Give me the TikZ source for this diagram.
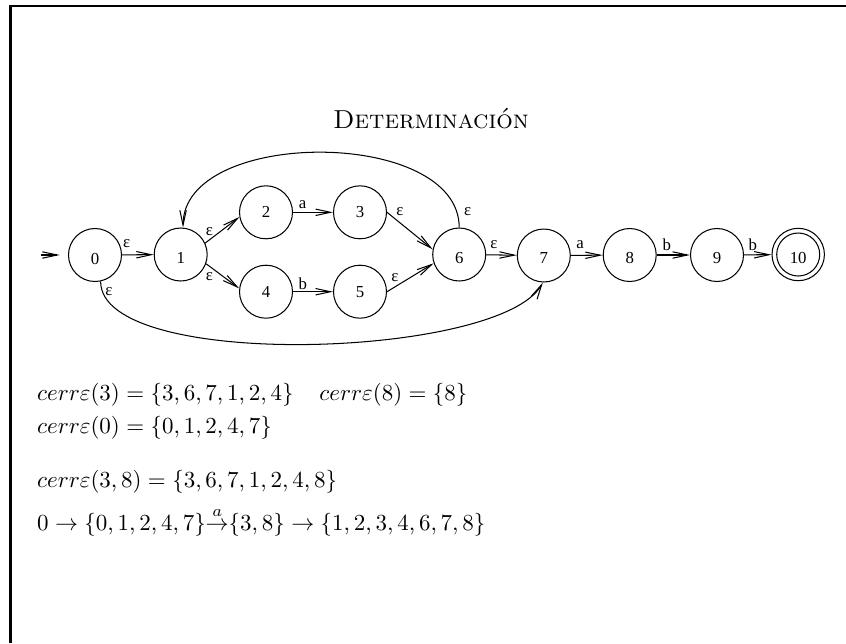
\documentclass[tikz,border=0pt]{standalone}
\usepackage{fontspec}
\newfontfamily\figfont{Liberation Serif}
\usetikzlibrary{arrows.meta}
\tikzset{
  state/.style={circle,draw,line width=0.45pt,minimum size=23.05pt,inner sep=0pt},
  slab/.style={font=\figfont\fontsize{7.3}{8}\selectfont,inner sep=0pt,anchor=center},
  elab/.style={font=\figfont\fontsize{7.3}{8}\selectfont,inner sep=0pt,anchor=center},
  edge/.style={line width=0.45pt,-{Straight Barb[length=6.5pt,width=2.8pt]}},
  txt/.style={anchor=base west,inner sep=0pt},
  frame/.style={line width=0.9pt}
}
\begin{document}
\begin{tikzpicture}[x=0.435pt,y=-0.435pt]
\useasboundingbox (0,0) rectangle (846,643);
\draw[frame] (10.5,643) -- (10.5,6) -- (846,6);

\node[anchor=base,inner sep=0pt,font=\fontsize{11.3}{13}\selectfont] (title) at (431,128) {\textsc{Determinación}};

% states
\node[state] (n0) at (95,255) {};
\node[state] (n1) at (180.7,254.5) {};
\node[state] (n2) at (266,212.3) {};
\node[state] (n3) at (360,212.3) {};
\node[state] (n4) at (266,291.7) {};
\node[state] (n5) at (360,291.7) {};
\node[state] (n6) at (459.2,254.5) {};
\node[state] (n7) at (543.8,255.5) {};
\node[state] (n8) at (629.7,255) {};
\node[state] (n9) at (717,255) {};
\node[state,minimum size=22.8pt] (n10) at (798.2,254.5) {};
\draw[line width=0.45pt] (n10.center) circle (21.5);

% state labels
\node[slab] (s0) at (95,258.5) {0};
\node[slab] (s1) at (180.7,258.3) {1};
\node[slab] (s2) at (266,212) {2};
\node[slab] (s3) at (360,212) {3};
\node[slab] (s4) at (266,291.7) {4};
\node[slab] (s5) at (360,291.7) {5};
\node[slab] (s6) at (459.2,258.3) {6};
\node[slab] (s7) at (543.8,257.8) {7};
\node[slab] (s8) at (629.7,257.8) {8};
\node[slab] (s9) at (717,257.8) {9};
\node[slab] (s10) at (798.2,257.8) {10};

% initial arrow
\coordinate (start) at (41,255);
\draw[edge,shorten >=3.6pt] (start) -- (n0);

% edges
\draw[edge] (n0) -- (n1);
\draw[edge] (n1.25) -- (n2.190);
\draw[edge] (n1.-20) -- (n4.173);
\draw[edge] (n2) -- (n3);
\draw[edge] (n4) -- (n5);
\draw[edge] (n3.east) -- (n6.169);
\draw[edge] (n5.east) -- (n6.199);
\draw[edge] (n6) -- (n7);
\draw[edge] (n7) -- (n8);
\draw[edge] (n8) -- (n9);
\draw[edge] (n9) -- (n10);
\draw[edge] (n6.north) .. controls +(0,-100) and +(0,-100) .. (n1.85);
\draw[edge] (n0.-78) .. controls +(0,90) and +(-43,76) .. (n7.-92);

% edge labels
\node[elab] (l01) at (126.7,244) {ε};
\node[elab] (l12) at (209.3,232) {ε};
\node[elab] (l14) at (209.3,277) {ε};
\node[elab] (l23) at (302.7,205) {a};
\node[elab] (l45) at (302.7,284) {b};
\node[elab] (l36) at (400,212) {ε};
\node[elab] (l56) at (395,277.7) {ε};
\node[elab] (l61) at (467.7,211.7) {ε};
\node[elab] (l07) at (109,291.7) {ε};
\node[elab] (l67) at (494,245) {ε};
\node[elab] (l78) at (580,245) {a};
\node[elab] (l89) at (666.7,245) {b};
\node[elab] (l910) at (752.7,245) {b};

% text
\node[txt] (t1) at (36.7,400) {$cerr\varepsilon(3)=\{3,6,7,1,2,4\}$};
\node[txt] (t2) at (319,400) {$cerr\varepsilon(8)=\{8\}$};
\node[txt] (t3) at (36.7,433) {$cerr\varepsilon(0)=\{0,1,2,4,7\}$};
\node[txt] (t4) at (36.7,487) {$cerr\varepsilon(3,8)=\{3,6,7,1,2,4,8\}$};
\node[txt] (t5) at (36.7,530) {$0\rightarrow\{0,1,2,4,7\}{\stackrel{a}{\rightarrow}}\{3,8\}\rightarrow\{1,2,3,4,6,7,8\}$};
\end{tikzpicture}
\end{document}
